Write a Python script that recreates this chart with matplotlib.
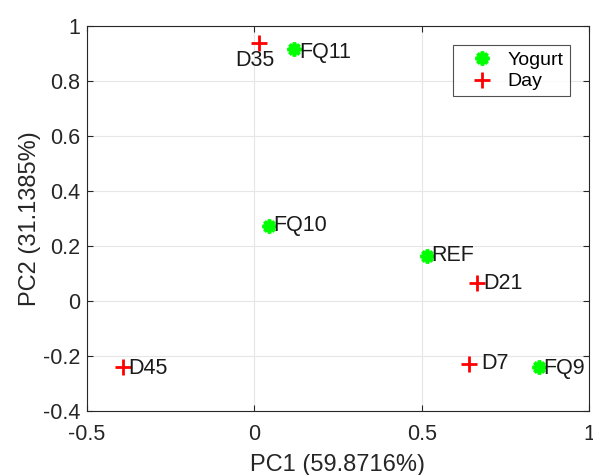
import matplotlib
matplotlib.use("Agg")
import matplotlib.pyplot as plt

plt.rcParams['font.family'] = ['Liberation Sans', 'DejaVu Sans']

# PCA scores
yog_names = ['FQ11', 'FQ10', 'REF', 'FQ9']
yog_pc1 = [0.118, 0.045, 0.515, 0.851]
yog_pc2 = [0.915, 0.273, 0.164, -0.239]

day_names = ['D35', 'D21', 'D7', 'D45']
day_pc1 = [0.015, 0.666, 0.642, -0.392]
day_pc2 = [0.939, 0.064, -0.229, -0.239]

xticks = [-0.5, 0, 0.5, 1]
yticks = [-0.4, -0.2, 0, 0.2, 0.4, 0.6, 0.8, 1]

fig = plt.figure(figsize=(5.93, 4.75), dpi=100)
ax = fig.add_axes([87/593, 64/475, 502/593, 385/475])

ax.plot(yog_pc1, yog_pc2, linestyle='none', marker=(8, 2, 0), markersize=10,
        mew=2.6, color='#00ff00', label='Yogurt')
ax.plot(day_pc1, day_pc2, linestyle='none', marker='+', markersize=12,
        mew=2.0, color='#ff0000', label='Day')

# label offsets in points
offsets = {'FQ11': (4, -2), 'FQ10': (3, 0), 'REF': (3, 0), 'FQ9': (3, -1),
           'D35': (-3, -13), 'D21': (4, 0), 'D7': (9, 0), 'D45': (4, -1)}
for names, xs, ys in [(yog_names, yog_pc1, yog_pc2), (day_names, day_pc1, day_pc2)]:
    for n, x, y in zip(names, xs, ys):
        dx, dy = offsets[n]
        ha = 'center' if n == 'D35' else 'left'
        ax.annotate(n, (x, y), xytext=(dx, dy), textcoords='offset points',
                    ha=ha, va='center', fontsize=15.5, color='#1a1a1a')

ax.set_xlim(-0.5, 1)
ax.set_ylim(-0.4, 1)
ax.set_xticks(xticks)
ax.set_xticklabels(['-0.5', '0', '0.5', '1'])
ax.set_yticks(yticks)
ax.set_yticklabels(['-0.4', '-0.2', '0', '0.2', '0.4', '0.6', '0.8', '1'])
ax.grid(True, color='#e6e6e6', linewidth=0.8)
ax.set_axisbelow(True)
ax.tick_params(direction='in', top=True, right=True, length=4, width=0.8,
               colors='#262626', labelsize=15.5, labelcolor='#262626')
ax.tick_params(axis='x', pad=9)
ax.tick_params(axis='y', pad=5)
for s in ax.spines.values():
    s.set_color('#262626')
    s.set_linewidth(0.8)

ax.set_xlabel('PC1 (59.8716%)', fontsize=17, color='#262626', labelpad=7)
ax.set_ylabel('PC2 (31.1385%)', fontsize=17, color='#262626', labelpad=1)

leg = ax.legend(loc='upper right', fontsize=14, frameon=True, fancybox=False,
                edgecolor='#262626', borderaxespad=1.0, handlelength=2.4,
                handletextpad=0.1, borderpad=0.3, labelspacing=0.2)
leg.get_frame().set_linewidth(0.8)

fig.savefig('out.png', dpi=100)
